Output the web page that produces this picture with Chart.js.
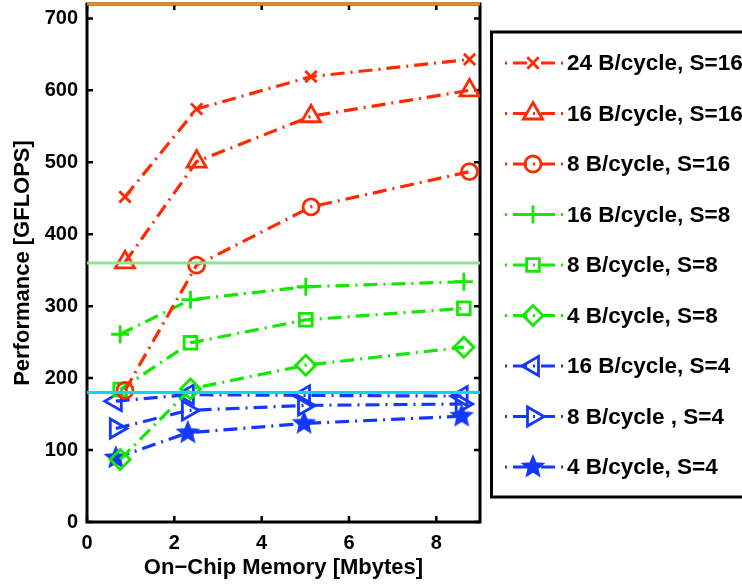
<!DOCTYPE html>
<html>
<head>
<meta charset="utf-8">
<script src="https://cdn.jsdelivr.net/npm/chart.js@4.4.1/dist/chart.umd.min.js"></script>
<style>
  html, body { margin: 0; padding: 0; background: #fff; }
  canvas { display: block; }
</style>
</head>
<body>
<canvas id="perf" width="742" height="584"></canvas>
<script>
// on-chip memory (Mbytes), each group of curves is slightly shifted like in the original
const memS16 = [0.87, 2.51, 5.13, 8.76];
const memS8 = [0.76, 2.37, 5.01, 8.63];
const memS4 = [0.66, 2.31, 4.97, 8.58];

// performance (GFLOPS)
const perf24S16 = [452, 574, 619, 643];
const perf16S16 = [361, 501, 564, 600];
const perf8S16 = [183, 357, 438, 487];
const perf16S8 = [261, 309, 327, 334];
const perf8S8 = [184, 249, 281, 297];
const perf4S8 = [87, 185, 218, 243];
const perf16S4 = [168, 177, 176, 175];
const perf8S4 = [130, 155, 162, 164];
const perf4S4 = [89, 124, 137, 147];

const seriesLabels = [
  '24 B/cycle, S=16', '16 B/cycle, S=16', '8 B/cycle, S=16',
  '16 B/cycle, S=8', '8 B/cycle, S=8', '4 B/cycle, S=8',
  '16 B/cycle, S=4', '8 B/cycle , S=4', '4 B/cycle, S=4'
];

// peak levels for S=16, S=8, S=4
const peakLevels = [720, 360, 180];

const xTicks = [0, 2, 4, 6, 8];
const yTicks = [0, 100, 200, 300, 400, 500, 600, 700];

const RED = '#ff2a00', GREEN = '#14e800', BLUE = '#1438ff';
const peakColors = ['#f08a14', '#8fe38f', '#00dcea'];
const FONT = '"Liberation Sans", Arial, Helvetica, sans-serif';
const DASH = [14, 6, 2, 6];

function makeStar(color, r) {
  const c = document.createElement('canvas');
  const s = Math.ceil(r * 2 + 4);
  c.width = s; c.height = s;
  const g = c.getContext('2d');
  g.fillStyle = color; g.strokeStyle = color; g.lineWidth = 1.5;
  g.beginPath();
  for (let i = 0; i < 10; i++) {
    const a = -Math.PI / 2 + i * Math.PI / 5;
    const rr = i % 2 ? r * 0.45 : r;
    g.lineTo(s / 2 + rr * Math.cos(a), s / 2 + rr * Math.sin(a));
  }
  g.closePath(); g.fill(); g.stroke();
  return c;
}
const star = makeStar(BLUE, 11);

// marker style per series
const styles = [
  { xs: memS16, ys: perf24S16, color: RED, point: 'crossRot', rot: 0, r: 8 },
  { xs: memS16, ys: perf16S16, color: RED, point: 'triangle', rot: 0, r: 11 },
  { xs: memS16, ys: perf8S16, color: RED, point: 'circle', rot: 0, r: 8 },
  { xs: memS8, ys: perf16S8, color: GREEN, point: 'cross', rot: 0, r: 9 },
  { xs: memS8, ys: perf8S8, color: GREEN, point: 'rect', rot: 0, r: 9 },
  { xs: memS8, ys: perf4S8, color: GREEN, point: 'rectRot', rot: 0, r: 10 },
  { xs: memS4, ys: perf16S4, color: BLUE, point: 'triangle', rot: -90, r: 11 },
  { xs: memS4, ys: perf8S4, color: BLUE, point: 'triangle', rot: 90, r: 11 },
  { xs: memS4, ys: perf4S4, color: BLUE, point: star, rot: 0, r: 11 }
];

const peakSets = peakLevels.map((lvl, i) => ({
  label: 'peak ' + lvl,
  data: [{ x: 0, y: lvl }, { x: 9, y: lvl }],
  borderColor: peakColors[i],
  borderWidth: 3,
  pointRadius: 0,
  clip: false,
  order: -1
}));

const seriesSets = styles.map((s, i) => ({
  label: seriesLabels[i],
  data: s.xs.map((x, j) => ({ x: x, y: s.ys[j] })),
  borderColor: s.color,
  borderWidth: 3.2,
  borderDash: DASH,
  pointStyle: s.point,
  pointRotation: s.rot,
  pointRadius: s.r,
  pointBorderWidth: 2.8,
  pointBorderColor: s.color,
  pointBackgroundColor: 'rgba(0,0,0,0)',
  tension: 0,
  fill: false
}));

const frame = {
  id: 'frame',
  beforeDatasetsDraw(chart) {
    const { ctx, chartArea: a, scales: { x, y } } = chart;
    ctx.save();
    ctx.strokeStyle = '#000';
    ctx.lineWidth = 3;
    ctx.strokeRect(a.left, a.top, a.right - a.left, a.bottom - a.top);
    ctx.lineWidth = 2.5;
    ctx.beginPath();
    xTicks.forEach(v => {
      const px = x.getPixelForValue(v);
      ctx.moveTo(px, a.bottom); ctx.lineTo(px, a.bottom - 6);
      ctx.moveTo(px, a.top); ctx.lineTo(px, a.top + 6);
    });
    yTicks.forEach(v => {
      const py = y.getPixelForValue(v);
      ctx.moveTo(a.left, py); ctx.lineTo(a.left + 6, py);
      ctx.moveTo(a.right, py); ctx.lineTo(a.right - 6, py);
    });
    ctx.stroke();
    ctx.restore();
  },
  afterDraw(chart) {
    const ctx = chart.ctx;
    ctx.save();
    ctx.strokeStyle = '#000';
    ctx.lineWidth = 3;
    ctx.strokeRect(491.5, 32, 300, 465);
    styles.forEach((s, i) => {
      const cy = 63 + i * 50.5;
      ctx.strokeStyle = s.color;
      ctx.lineWidth = 3;
      ctx.setLineDash(DASH);
      ctx.lineDashOffset = 20; // start the sample with the dot
      ctx.beginPath();
      ctx.moveTo(505, cy); ctx.lineTo(563, cy);
      ctx.stroke();
      ctx.setLineDash([]);
      ctx.lineDashOffset = 0;
      ctx.lineWidth = 2.8;
      ctx.fillStyle = 'rgba(0,0,0,0)';
      Chart.helpers.drawPoint(ctx, { pointStyle: s.point, rotation: s.rot, radius: s.r, borderWidth: 2.8 }, 533, cy);
      ctx.fillStyle = '#000';
      ctx.font = 'bold 22.5px ' + FONT;
      ctx.textBaseline = 'middle';
      ctx.textAlign = 'left';
      ctx.fillText(seriesLabels[i], 567, cy + 1);
    });
    ctx.restore();
  }
};

Chart.defaults.font.family = FONT;
Chart.defaults.color = '#000';

new Chart(document.getElementById('perf'), {
  type: 'line',
  data: { datasets: peakSets.concat(seriesSets) },
  plugins: [frame],
  options: {
    responsive: false,
    animation: false,
    events: [],
    devicePixelRatio: 1,
    layout: { autoPadding: false, padding: { left: 0, top: 4, right: 262, bottom: 0 } },
    plugins: { legend: { display: false }, tooltip: { enabled: false } },
    scales: {
      x: {
        type: 'linear',
        min: 0,
        max: 9,
        grid: { display: false, drawTicks: false },
        border: { display: false },
        ticks: { font: { size: 20, weight: 'bold' }, padding: 9, maxRotation: 0 },
        afterBuildTicks: s => { s.ticks = xTicks.map(v => ({ value: v })); },
        afterFit: s => { s.height = 62; s.paddingLeft = 0; s.paddingRight = 0; },
        title: { display: true, text: 'On\u2212Chip Memory [Mbytes]', font: { size: 22, weight: 'bold' }, padding: { top: 0, bottom: 3 } }
      },
      y: {
        min: 0,
        max: 720,
        grid: { display: false, drawTicks: false },
        border: { display: false },
        ticks: { font: { size: 20, weight: 'bold' }, padding: 9, includeBounds: false },
        afterBuildTicks: s => { s.ticks = yTicks.map(v => ({ value: v })); },
        afterFit: s => { s.width = 87; s.paddingTop = 0; s.paddingBottom = 0; },
        title: { display: true, text: 'Performance [GFLOPS]', font: { size: 22, weight: 'bold' }, padding: { top: 10, bottom: 0 } }
      }
    }
  }
});
</script>
</body>
</html>
